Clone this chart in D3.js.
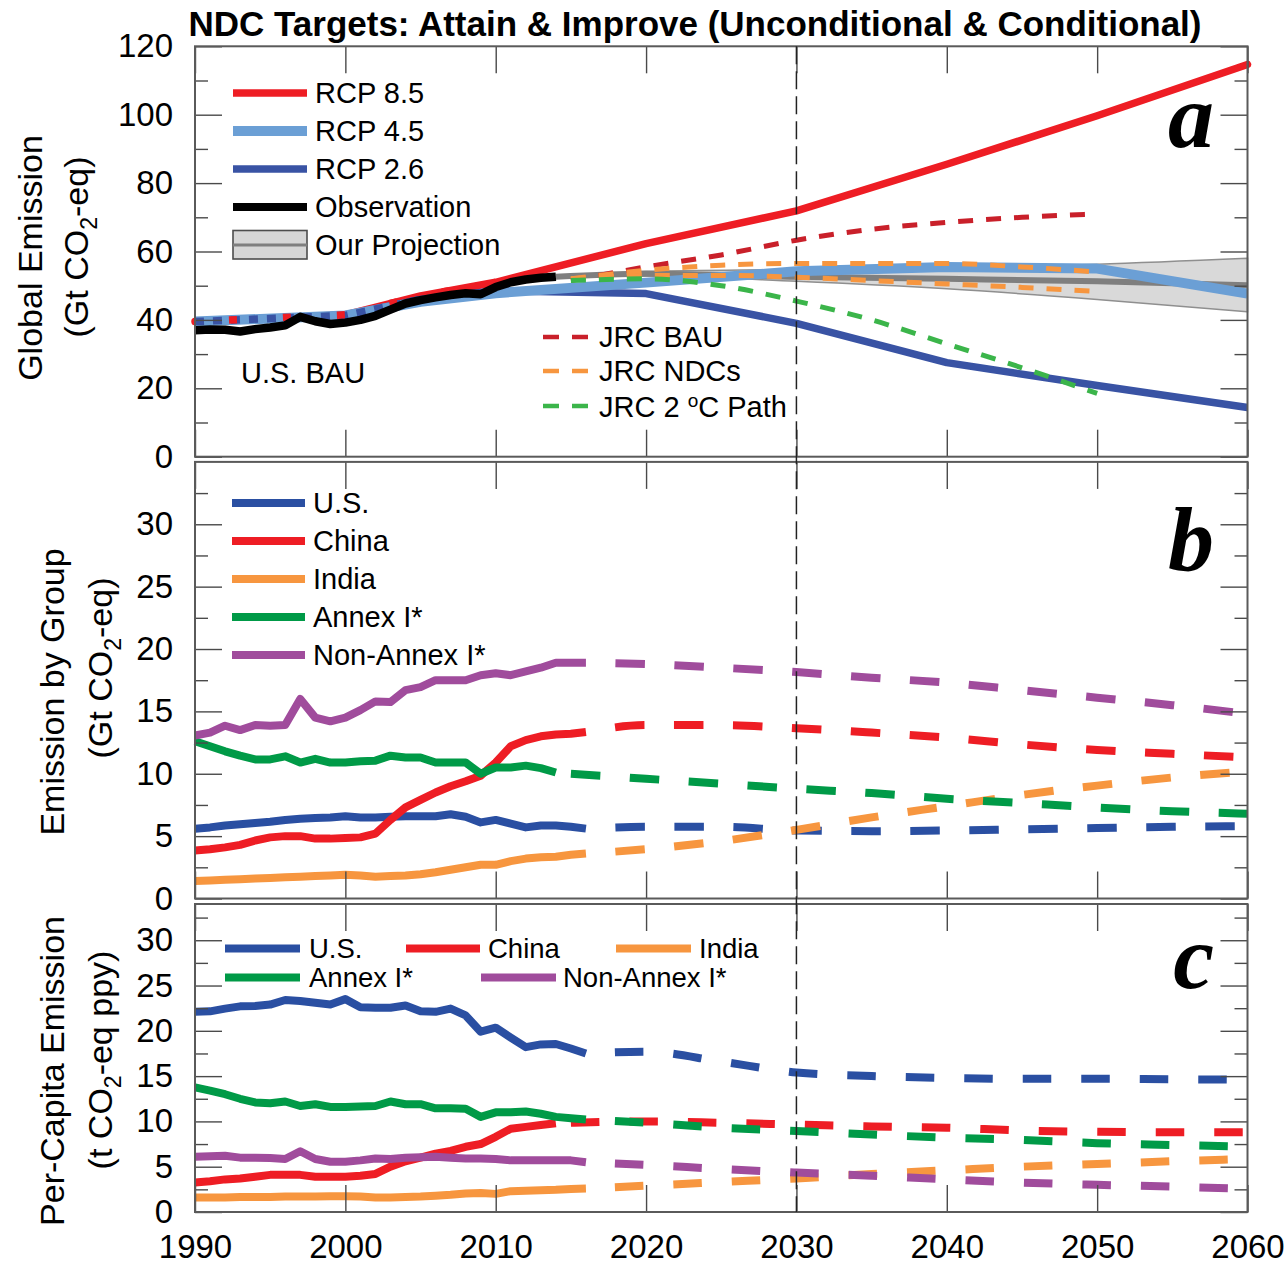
<!DOCTYPE html>
<html>
<head>
<meta charset="utf-8">
<script src="https://cdn.jsdelivr.net/npm/d3@7"></script>
<style>
  body { margin: 0; background: #fff; }
  svg { display: block; font-family: "Liberation Sans", Arial, Helvetica, sans-serif; }
</style>
</head>
<body>
<svg id="chart" width="1286" height="1264"></svg>
<script>
// ---------- Panel a: global emission (Gt CO2-eq) ----------
const rcpYears = [1990, 2000, 2005, 2010, 2020, 2030, 2040, 2050, 2060];
const rcp85 = [39.5, 41.5, 47.0, 51.0, 62.3, 71.9, 85.5, 99.7, 114.7];
const rcp45 = [39.5, 41.3, 45.3, 47.8, 50.9, 54.2, 55.5, 55.0, 47.7];
const rcp26 = [39.5, 41.3, 46.0, 48.5, 47.7, 39.0, 27.5, 20.8, 14.4];

const obsYears = [1990, 1991, 1992, 1993, 1994, 1995, 1996, 1997, 1998, 1999, 2000, 2001, 2002,
                  2003, 2004, 2005, 2006, 2007, 2008, 2009, 2010, 2011, 2012, 2013, 2014];
const globalObs = [37.0, 37.2, 37.1, 36.6, 37.3, 37.8, 38.4, 40.9, 39.6, 38.8, 39.2, 40.0, 41.2,
                   43.0, 44.8, 45.8, 46.6, 47.3, 47.8, 47.5, 49.6, 51.0, 51.8, 52.3, 52.6];

const projYears = [2014, 2020, 2030, 2040, 2050, 2060];
const projMid  = [52.6, 53.5, 52.6, 52.0, 51.3, 50.1];
const projHigh = [52.6, 54.2, 54.8, 55.5, 56.3, 58.0];
const projLow  = [52.6, 52.8, 51.3, 49.1, 46.0, 42.4];

const jrcYears = [2015, 2020, 2025, 2030, 2035, 2040, 2045, 2050];
const jrcBAU        = [51.5, 55.5, 59.0, 63.3, 66.5, 68.5, 70.0, 71.0];
const jrcNDCUncond  = [52.0, 54.5, 56.0, 56.5, 56.5, 56.5, 55.5, 54.0];
const jrcNDCCond    = [52.0, 53.0, 53.0, 52.5, 51.5, 50.5, 49.5, 48.3];
const jrc2C         = [51.5, 52.0, 50.0, 45.5, 40.0, 33.0, 26.0, 18.5];

// ---------- Panels b & c: by group ----------
const histYears = [1990, 1991, 1992, 1993, 1994, 1995, 1996, 1997, 1998, 1999, 2000, 2001, 2002, 2003,
                   2004, 2005, 2006, 2007, 2008, 2009, 2010, 2011, 2012, 2013, 2014, 2015, 2016];
const futYears = [2016, 2020, 2025, 2030, 2035, 2040, 2045, 2050, 2055, 2060];
const futYearsEarly = [2015, 2020, 2025, 2030, 2035, 2040, 2045, 2050, 2055, 2060];

// b: total emission (Gt CO2-eq)
const bUS       = [5.6, 5.7, 5.85, 5.95, 6.05, 6.15, 6.3, 6.4, 6.45, 6.5, 6.6, 6.5, 6.5, 6.55, 6.6, 6.6, 6.6, 6.75, 6.55, 6.1, 6.3, 6.0, 5.7, 5.85, 5.85, 5.75, 5.6];
const bChina    = [3.85, 3.95, 4.1, 4.3, 4.65, 4.9, 5.0, 5.0, 4.8, 4.8, 4.85, 4.9, 5.2, 6.3, 7.3, 7.9, 8.5, 9.0, 9.4, 9.85, 10.9, 12.2, 12.7, 13.0, 13.15, 13.2, 13.35];
const bIndia    = [1.4, 1.45, 1.5, 1.55, 1.6, 1.65, 1.7, 1.75, 1.8, 1.85, 1.9, 1.85, 1.75, 1.8, 1.85, 1.95, 2.1, 2.3, 2.5, 2.7, 2.7, 3.0, 3.2, 3.3, 3.35, 3.5, 3.6];
const bAnnex    = [12.6, 12.2, 11.8, 11.45, 11.15, 11.15, 11.4, 10.9, 11.2, 10.9, 10.9, 11.0, 11.05, 11.45, 11.3, 11.3, 10.9, 10.9, 10.9, 10.0, 10.5, 10.5, 10.65, 10.45, 10.1];
const bNonAnnex = [13.07, 13.3, 13.85, 13.5, 13.9, 13.85, 13.9, 16.0, 14.5, 14.2, 14.5, 15.1, 15.8, 15.75, 16.7, 16.95, 17.5, 17.5, 17.5, 17.9, 18.05, 17.9, 18.2, 18.5, 18.9, 18.9, 18.9];

const bUSFut       = [5.6, 5.75, 5.75, 5.45, 5.4, 5.45, 5.55, 5.65, 5.75, 5.8];
const bChinaFut    = [13.35, 13.9, 13.9, 13.65, 13.3, 12.9, 12.35, 11.9, 11.6, 11.3];
const bIndiaFut    = [3.6, 3.95, 4.6, 5.5, 6.5, 7.4, 8.3, 9.05, 9.7, 10.2];
const bAnnexFut    = [10.0, 9.6, 9.2, 8.8, 8.45, 8.0, 7.65, 7.3, 7.0, 6.8];
const bNonAnnexFut = [18.9, 18.8, 18.5, 18.15, 17.7, 17.3, 16.7, 16.1, 15.5, 14.8];

// c: per-capita emission (t CO2-eq per person per year)
const cUS       = [22.1, 22.15, 22.45, 22.7, 22.75, 22.9, 23.4, 23.3, 23.1, 22.9, 23.5, 22.6, 22.55, 22.55, 22.8, 22.15, 22.1, 22.45, 21.7, 19.9, 20.35, 19.25, 18.2, 18.5, 18.55, 18.05, 17.5];
const cChina    = [3.25, 3.4, 3.6, 3.7, 3.9, 4.1, 4.1, 4.1, 3.9, 3.9, 3.9, 4.0, 4.2, 5.0, 5.6, 6.0, 6.45, 6.75, 7.2, 7.5, 8.3, 9.2, 9.4, 9.6, 9.8];
const cIndia    = [1.6, 1.6, 1.6, 1.65, 1.65, 1.65, 1.7, 1.7, 1.7, 1.75, 1.75, 1.7, 1.6, 1.6, 1.65, 1.7, 1.8, 1.9, 2.05, 2.1, 2.0, 2.3, 2.35, 2.4, 2.45, 2.55, 2.6];
const cAnnex    = [13.75, 13.4, 13.0, 12.5, 12.1, 12.0, 12.2, 11.7, 11.9, 11.6, 11.6, 11.65, 11.7, 12.2, 11.9, 11.9, 11.45, 11.45, 11.4, 10.5, 11.0, 11.0, 11.1, 10.85, 10.5, 10.35, 10.2];
const cNonAnnex = [6.1, 6.15, 6.2, 6.0, 6.0, 5.95, 5.85, 6.7, 5.85, 5.55, 5.55, 5.7, 5.9, 5.85, 6.0, 6.05, 6.1, 6.0, 5.9, 5.9, 5.85, 5.7, 5.7, 5.7, 5.7, 5.7, 5.5];

const cUSFut       = [17.5, 17.7, 16.6, 15.4, 15.0, 14.8, 14.7, 14.7, 14.65, 14.6];
const cChinaFut    = [9.85, 10.0, 9.85, 9.65, 9.45, 9.3, 9.0, 8.85, 8.8, 8.8];
const cIndiaFut    = [2.6, 2.9, 3.3, 3.7, 4.2, 4.6, 5.0, 5.3, 5.6, 5.85];
const cAnnexFut    = [10.2, 9.85, 9.3, 8.95, 8.55, 8.2, 7.95, 7.6, 7.4, 7.2];
const cNonAnnexFut = [5.5, 5.2, 4.75, 4.35, 4.0, 3.6, 3.25, 3.0, 2.8, 2.55];

// axis ticks
const xTicks = [1990, 2000, 2010, 2020, 2030, 2040, 2050, 2060];
const aMajor = [0, 20, 40, 60, 80, 100, 120];
const aMinor = [10, 30, 50, 70, 90, 110];
const bcMajor = [0, 5, 10, 15, 20, 25, 30];
const bcMinor = [2.5, 7.5, 12.5, 17.5, 22.5, 27.5, 32.5];

// colours
const C = {
  rcp85: "#ee1d24", rcp45: "#6b9fd5", rcp26: "#3953a4",
  jrcBAU: "#c9202a", jrcNDC: "#f7963f", jrc2C: "#3bb54a",
  us: "#2a4fa2", china: "#ee1d24", india: "#f7963f", annex: "#009a47", nonAnnex: "#a04c9c"
};

const SANS = "Liberation Sans, Arial, Helvetica, sans-serif";
const SERIF = "Liberation Serif, Times New Roman, serif";

const svg = d3.select("#chart");
const X0 = 195, X1 = 1247.5;
const x = d3.scaleLinear().domain([1990, 2060]).range([X0, X1]);
const ya = d3.scaleLinear().domain([0, 120]).range([456.7, 46.3]);
const yb = d3.scaleLinear().domain([0, 35]).range([898.5, 461.9]);
const yc = d3.scaleLinear().domain([0, 34]).range([1212, 904]);

const zip = (xs, vs) => xs.map((d, i) => [d, vs[i]]);

function drawAxes(y, major, minor, xLabels) {
  const [bot, top] = y.range();
  const g = svg.append("g").attr("class", "axes");
  const style = sel => {
    sel.select(".domain").remove();
    sel.attr("font-family", SANS).attr("font-size", 33);
    sel.selectAll(".tick line").attr("stroke", "#4a4a4a").attr("stroke-width", 1.4);
    sel.selectAll(".tick text").attr("fill", "#000");
  };
  g.append("g").attr("transform", `translate(${X0},0)`)
    .call(d3.axisLeft(y).tickValues(major).tickSizeInner(-27).tickSizeOuter(0).tickPadding(22).tickFormat(d3.format("d")))
    .call(style);
  g.append("g").attr("transform", `translate(${X0},0)`)
    .call(d3.axisLeft(y).tickValues(minor).tickSizeInner(-13).tickSizeOuter(0).tickFormat(""))
    .call(style);
  g.append("g").attr("transform", `translate(${X1},0)`)
    .call(d3.axisRight(y).tickValues(major).tickSizeInner(-27).tickSizeOuter(0).tickFormat(""))
    .call(style);
  g.append("g").attr("transform", `translate(${X1},0)`)
    .call(d3.axisRight(y).tickValues(minor).tickSizeInner(-13).tickSizeOuter(0).tickFormat(""))
    .call(style);
  g.append("g").attr("transform", `translate(0,${bot})`)
    .call(d3.axisBottom(x).tickValues(xTicks).tickSizeInner(-27).tickSizeOuter(0).tickPadding(23)
      .tickFormat(xLabels ? d3.format("d") : ""))
    .call(style);
  g.append("g").attr("transform", `translate(0,${top})`)
    .call(d3.axisTop(x).tickValues(xTicks).tickSizeInner(-27).tickSizeOuter(0).tickFormat(""))
    .call(style);
  g.append("rect").attr("x", X0).attr("y", top).attr("width", X1 - X0).attr("height", bot - top)
    .attr("fill", "none").attr("stroke", "#5a5a5a").attr("stroke-width", 2);
}

function path(g, data, y, color, width, opts = {}) {
  const line = d3.line().x(d => x(d[0])).y(d => y(d[1]))
    .curve(opts.smooth ? d3.curveMonotoneX : d3.curveLinear);
  const p = g.append("path").datum(data).attr("d", line)
    .attr("fill", "none").attr("stroke", color).attr("stroke-width", width)
    .attr("stroke-linejoin", "round");
  if (opts.dash) p.attr("stroke-dasharray", opts.dash).attr("stroke-dashoffset", opts.offset || 0);
  return p;
}

// ---------- Panel a ----------
const ga = svg.append("g");
const band = d3.area().x(d => x(d[0])).y0(d => ya(d[1])).y1(d => ya(d[2])).curve(d3.curveMonotoneX);
ga.append("path").datum(projYears.map((d, i) => [d, projLow[i], projHigh[i]]))
  .attr("d", band).attr("fill", "#d9d9d9").attr("stroke", "#8f8f8f").attr("stroke-width", 1.5);
path(ga, zip(projYears, projMid), ya, "#7f7f7f", 6, { smooth: true });
path(ga, zip(rcpYears, rcp85), ya, C.rcp85, 7.5).attr("stroke-linecap", "round");
path(ga, zip(rcpYears, rcp26), ya, C.rcp26, 7.5);
path(ga, zip(rcpYears, rcp45), ya, C.rcp45, 10);
// overlapping scenario traces at the start of the record
path(ga, zip(rcpYears.slice(0, 3), rcp26.slice(0, 3)), ya, C.rcp26, 7.5, { dash: "9,9" });
path(ga, zip(rcpYears.slice(0, 4), rcp85.slice(0, 4)), ya, C.rcp85, 7.5, { dash: "8,46", offset: 20 });
path(ga, zip(obsYears, globalObs), ya, "#000", 8.5);
const jd = "15,13";
path(ga, zip(jrcYears, jrcBAU), ya, C.jrcBAU, 5, { smooth: true, dash: jd });
path(ga, zip(jrcYears, jrcNDCUncond), ya, C.jrcNDC, 5, { smooth: true, dash: jd });
path(ga, zip(jrcYears, jrcNDCCond), ya, C.jrcNDC, 5, { smooth: true, dash: jd });
path(ga, zip(jrcYears, jrc2C), ya, C.jrc2C, 5, { smooth: true, dash: jd });

// ---------- Panel b ----------
const gb = svg.append("g");
const bSeries = [
  { h: bUS, hy: histYears, f: bUSFut, fy: futYears, c: C.us, off: 29.5 },
  { h: bChina, hy: histYears, f: bChinaFut, fy: futYears, c: C.china, off: 29.5 },
  { h: bIndia, hy: histYears, f: bIndiaFut, fy: futYears, c: C.india, off: 29.5 },
  { h: bAnnex, hy: histYears.slice(0, 25), f: bAnnexFut, fy: futYearsEarly, c: C.annex, off: 0 },
  { h: bNonAnnex, hy: histYears, f: bNonAnnexFut, fy: futYears, c: C.nonAnnex, off: 29.5 }
];
bSeries.forEach(s => {
  path(gb, zip(s.hy, s.h), yb, s.c, 8);
  path(gb, zip(s.fy, s.f), yb, s.c, 8, { smooth: true, dash: "29.5,29.5", offset: s.off });
});

// ---------- Panel c ----------
const gc = svg.append("g");
const cSeries = [
  { h: cUS, hy: histYears, f: cUSFut, fy: futYears, c: C.us, off: 29.5 },
  { h: cChina, hy: histYears.slice(0, 25), f: cChinaFut, fy: futYearsEarly, c: C.china, off: 0 },
  { h: cIndia, hy: histYears, f: cIndiaFut, fy: futYears, c: C.india, off: 29.5 },
  { h: cAnnex, hy: histYears, f: cAnnexFut, fy: futYears, c: C.annex, off: 29.5 },
  { h: cNonAnnex, hy: histYears, f: cNonAnnexFut, fy: futYears, c: C.nonAnnex, off: 29.5 }
];
cSeries.forEach(s => {
  path(gc, zip(s.hy, s.h), yc, s.c, 8);
  path(gc, zip(s.fy, s.f), yc, s.c, 8, { smooth: true, dash: "28.5,30", offset: s.off });
});

// ---------- axes and frames ----------
drawAxes(ya, aMajor, aMinor, false);
drawAxes(yb, bcMajor, bcMinor, false);
drawAxes(yc, bcMajor, bcMinor, true);

// 2030 reference line through all panels
svg.append("line").attr("x1", x(2030)).attr("x2", x(2030)).attr("y1", ya.range()[1]).attr("y2", yc.range()[0])
  .attr("stroke", "#222").attr("stroke-width", 1.5).attr("stroke-dasharray", "18,7");

// ---------- legends ----------
function legendLine(x1, x2, y, color, w, dash) {
  const l = svg.append("line").attr("x1", x1).attr("x2", x2).attr("y1", y).attr("y2", y)
    .attr("stroke", color).attr("stroke-width", w);
  if (dash) l.attr("stroke-dasharray", dash);
}
function legendText(tx, y, label, size = 29) {
  svg.append("text").attr("x", tx).attr("y", y + size * 0.362).attr("font-family", SANS)
    .attr("font-size", size).attr("fill", "#000").text(label);
}

// panel a
[["RCP 8.5", C.rcp85, 7.5, 93], ["RCP 4.5", C.rcp45, 10, 131], ["RCP 2.6", C.rcp26, 7.5, 169],
 ["Observation", "#000", 8, 207]].forEach(([lab, col, w, yy]) => {
  legendLine(233, 307, yy, col, w);
  legendText(315, yy, lab);
});
svg.append("rect").attr("x", 233).attr("y", 230.5).attr("width", 74).attr("height", 28.5)
  .attr("fill", "#d6d6d6").attr("stroke", "#4d4d4d").attr("stroke-width", 1.6);
legendLine(233, 307, 245, "#7f7f7f", 3);
legendText(315, 245, "Our Projection");

[["JRC BAU", C.jrcBAU, 337], ["JRC NDCs", C.jrcNDC, 371]].forEach(([lab, col, yy]) => {
  legendLine(543, 588, yy, col, 4.5, "16,13");
  legendText(599, yy, lab);
});
legendLine(543, 588, 406, C.jrc2C, 4.5, "16,13");
const t2c = svg.append("text").attr("x", 599).attr("y", 416.5).attr("font-family", SANS)
  .attr("font-size", 29).attr("fill", "#000");
t2c.append("tspan").text("JRC 2 ");
t2c.append("tspan").attr("font-size", 19).attr("dy", -10).text("o");
t2c.append("tspan").attr("dy", 10).text("C Path");

svg.append("text").attr("x", 241).attr("y", 383).attr("font-family", SANS)
  .attr("font-size", 29).attr("fill", "#000").text("U.S. BAU");

// panel b
[["U.S.", C.us, 503], ["China", C.china, 541], ["India", C.india, 579], ["Annex I*", C.annex, 617],
 ["Non-Annex I*", C.nonAnnex, 655]].forEach(([lab, col, yy]) => {
  legendLine(232, 305, yy, col, 8);
  legendText(313, yy, lab);
});

// panel c (two compact rows)
[["U.S.", C.us, 225, 300, 309, 948.5], ["China", C.china, 406, 480, 488, 948.5], ["India", C.india, 616, 691, 699, 948.5],
 ["Annex I*", C.annex, 225, 300, 309, 977.5], ["Non-Annex I*", C.nonAnnex, 481, 556, 563, 977.5]]
  .forEach(([lab, col, a1, a2, tx, yy]) => {
    legendLine(a1, a2, yy, col, 8);
    legendText(tx, yy, lab, 27.5);
  });

// ---------- panel letters ----------
[["a", 147], ["b", 570], ["c", 988]].forEach(([t, yy]) => {
  svg.append("text").attr("x", 1214).attr("y", yy).attr("text-anchor", "end")
    .attr("font-family", SERIF).attr("font-style", "italic")
    .attr("font-weight", "bold").attr("font-size", 92).attr("fill", "#000").text(t);
});

// ---------- title ----------
svg.append("text").attr("x", 695).attr("y", 36).attr("text-anchor", "middle")
  .attr("font-family", SANS).attr("font-size", 35).attr("font-weight", "bold").attr("fill", "#000")
  .text("NDC Targets: Attain & Improve (Unconditional & Conditional)");

// ---------- y-axis titles ----------
function yTitle(xb, yc0, parts) {
  const t = svg.append("text").attr("transform", `translate(${xb},${yc0}) rotate(-90)`)
    .attr("text-anchor", "middle").attr("font-family", SANS).attr("font-size", 34).attr("fill", "#000");
  parts.forEach(([s, sub], i) => {
    if (sub) {
      t.append("tspan").attr("font-size", 23).attr("dy", 9).text(s);
    } else {
      const ts = t.append("tspan").text(s);
      if (i > 0) ts.attr("dy", -9);
    }
  });
}
yTitle(42, 258, [["Global Emission"]]);
yTitle(88, 247, [["(Gt CO"], ["2", true], ["-eq)"]]);
yTitle(64, 692, [["Emission by Group"]]);
yTitle(112, 668, [["(Gt CO"], ["2", true], ["-eq)"]]);
yTitle(64, 1071, [["Per-Capita Emission"]]);
yTitle(112, 1060, [["(t CO"], ["2", true], ["-eq ppy)"]]);
</script>
</body>
</html>
